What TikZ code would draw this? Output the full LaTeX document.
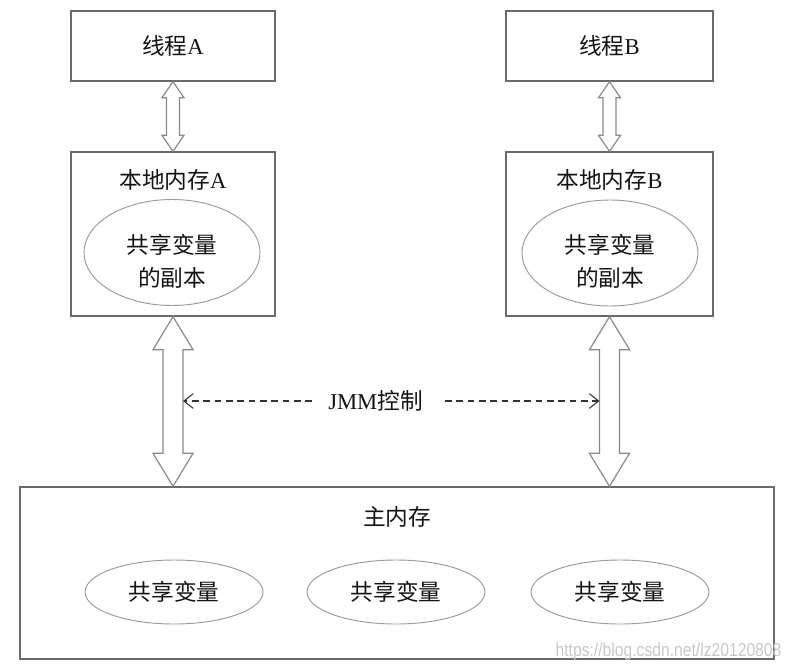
\documentclass[tikz,border=0pt]{standalone}
\usepackage{fontspec}
\setmainfont{Liberation Serif}
\newfontfamily\cjk{Noto Sans CJK SC}
\newfontfamily\wmfont{Liberation Sans}
\usetikzlibrary{calc,arrows.meta,shapes.geometric}
\definecolor{boxgray}{HTML}{6A6A6A}
\definecolor{ellgray}{HTML}{9A9A9A}
\definecolor{arrgray}{HTML}{8A8A8A}
\definecolor{textblack}{HTML}{141414}
\definecolor{dashgray}{HTML}{333333}
\definecolor{wmgray}{HTML}{C8C8C8}
% #1 start, #2 end, #3 half shaft width, #4 half head width, #5 head length (px)
\newcommand\hollowarr[5]{%
  \draw[arrline] (#1) -- ($(#1)+(#4,#5)$) -- ($(#1)+(#3,#5)$) -- ($(#2)+(#3,-#5)$)
    -- ($(#2)+(#4,-#5)$) -- (#2) -- ($(#2)+(-#4,-#5)$) -- ($(#2)+(-#3,-#5)$)
    -- ($(#1)+(-#3,#5)$) -- ($(#1)+(-#4,#5)$) -- cycle;}
\begin{document}
\begin{tikzpicture}[x=0.75pt,y=-0.75pt,
  lbl/.style={font=\fontsize{17}{24.75}\selectfont,text=textblack,inner sep=0pt},
  box/.style={draw=boxgray,line width=1pt,rectangle,inner sep=0pt,lbl},
  ell/.style={draw=ellgray,line width=0.7pt,ellipse,inner sep=0pt,lbl},
  arrline/.style={draw=arrgray,line width=0.9pt,fill=white,line join=miter},
  dline/.style={draw=dashgray,line width=0.8pt,dash pattern=on 5pt off 3.5pt,
    -{Straight Barb[length=7pt,width=11pt]}},
]
\useasboundingbox (0,0) rectangle (792,671);
\fill[white] (0,0) rectangle (792,671);

% threads
\node[box,minimum width=153pt,minimum height=52.5pt] (tA) at (173,46) {{\cjk 线程}A};
\node[box,minimum width=155.25pt,minimum height=52.5pt] (tB) at (609.5,46) {{\cjk 线程}B};

% local memories
\node[box,minimum width=153pt,minimum height=123pt] (lA) at (173,234) {};
\node[lbl] (lAt) at (173,180) {{\cjk 本地内存}A};
\node[ell,minimum width=132pt,minimum height=79.5pt] (eA) at (172,252.5) {};
\node[lbl,align=center,font=\fontsize{17}{24.75}\selectfont\cjk] (eAt) at (172,261) {共享变量\\的副本};

\node[box,minimum width=155.25pt,minimum height=123pt] (lB) at (609.5,234) {};
\node[lbl] (lBt) at (609.5,180) {{\cjk 本地内存}B};
\node[ell,minimum width=132pt,minimum height=79.5pt] (eB) at (610,253) {};
\node[lbl,align=center,font=\fontsize{17}{24.75}\selectfont\cjk] (eBt) at (610,261) {共享变量\\的副本};

% main memory
\node[box,minimum width=565.5pt,minimum height=129pt] (M) at (397,573) {};
\node[lbl,font=\fontsize{17}{24.75}\selectfont\cjk] (Mt) at (397,517) {主内存};
\node[ell,minimum width=133.5pt,minimum height=48pt,font=\fontsize{17}{24.75}\selectfont\cjk] (m1) at (174,592) {共享变量};
\node[ell,minimum width=133.5pt,minimum height=48pt,font=\fontsize{17}{24.75}\selectfont\cjk] (m2) at (396,592) {共享变量};
\node[ell,minimum width=133.5pt,minimum height=48pt,font=\fontsize{17}{24.75}\selectfont\cjk] (m3) at (620,592) {共享变量};

% hollow double arrows
\hollowarr{tA.south}{lA.north}{6.5}{11}{16}
\hollowarr{tB.south}{lB.north}{6.5}{11}{16}
\coordinate (mA) at (lA.south |- M.north);
\coordinate (mB) at (lB.south |- M.north);
\hollowarr{lA.south}{mA}{10}{20}{33}
\hollowarr{lB.south}{mB}{10}{20}{33}

% JMM control
\node[lbl] (J) at (375.5,401) {JMM{\cjk 控制}};
\coordinate (aL) at (183,401);
\coordinate (aR) at (599.5,401);
\draw[dline] ($(J.west)+(-16,0)$) -- (aL);
\draw[dline] ($(J.east)+(22,0)$) -- (aR);

% watermark
\node[font=\wmfont\fontsize{14}{14}\selectfont,text=wmgray,xscale=0.84,inner sep=0pt] (wm) at (668.5,652) {https://blog.csdn.net/lz20120808};
\end{tikzpicture}
\end{document}
